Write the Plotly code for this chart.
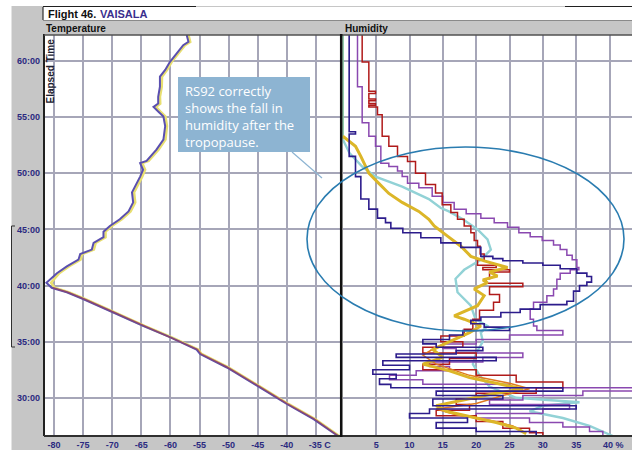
import plotly.graph_objects as go

# ---------------- data ----------------
temp_time = [62.3, 61.7, 61.4, 60.7, 59.9, 59.2, 58.6, 57.7, 56.8, 56.2, 55.9, 55.5, 55.05, 54.2, 53.0,
             52.1, 51.5, 51.1, 50.9, 50.3, 49.7, 48.8, 48.3, 47.4, 46.6, 45.9, 45.3, 44.8, 44.3, 43.8,
             43.2, 42.8, 42.3, 41.7, 41.1, 40.25, 39.8, 39.4, 38.8, 37.6, 36.4, 35.4, 34.3, 33.9, 32.7,
             31.1, 29.45, 28.1, 26.6]
temp_rs92 = [-57.2, -56.9, -57.8, -58.9, -60.1, -60.9, -61.8, -61.8, -62.1, -62.1, -62.9, -62.1, -61.2, -60.9, -61.2,
             -62.4, -63.5, -64.1, -65.2, -64.7, -65.2, -66.1, -66.6, -66.4, -67.2, -68.7, -70.4, -71.5, -71.5, -73.2,
             -73.5, -75.5, -75.8, -77.8, -79.5, -81.3, -80.4, -77.8, -75.0, -69.8, -64.7, -60.1, -55.5, -54.9, -50.3,
             -45.2, -40.0, -35.4, -31.2]
temp_ref = [-56.9, -56.6, -57.5, -58.6, -59.8, -60.6, -61.45, -61.5, -61.8, -61.75, -62.5, -61.75, -60.85, -60.6,
            -60.85, -62.05, -63.15, -63.75, -64.85, -64.35, -64.85, -65.75, -66.25, -66.05, -66.85, -68.35, -70.05,
            -71.15, -71.15, -72.85, -73.15, -75.15, -75.45, -77.45, -79.1, -80.5, -79.9, -77.5, -74.7, -69.55,
            -64.45, -59.85, -55.25, -54.65, -50.05, -44.95, -39.75, -35.15, -31.0]
temp_low_time = [39.8, 39.4, 38.8, 37.6, 36.4, 35.4, 34.3, 33.9, 32.7, 31.1, 29.45, 28.1, 26.6]
temp_low = [-80.2, -77.6, -74.8, -69.6, -64.5, -59.9, -55.3, -54.7, -50.1, -45.0, -39.8, -35.2, -31.1]

cyan_time = [53.0, 51.8, 50.6, 49.7, 48.8, 47.7, 46.9, 46.6, 45.9, 45.0, 44.1, 43.2, 42.3, 41.4, 40.6, 39.4,
             38.2, 37.0, 36.4, 35.8, 35.0, 34.0, 33.0, 32.0, 31.0, 30.0, 29.6, 29.3, 28.8, 28.2, 27.5, 26.6]
cyan_hum = [0.0, 1.0, 2.9, 4.9, 8.9, 12.9, 14.7, 15.9, 18.0, 20.2, 21.7, 22.2, 20.7, 18.2, 16.9, 17.2,
            19.2, 19.9, 21.7, 20.7, 21.0, 20.0, 19.5, 20.5, 22.0, 26.0, 35.5, 30.0, 28.0, 33.0, 37.0, 40.5]
green_time = [62.3, 53.0]
green_hum = [0.0, 0.0]

gold_time = [53.3, 52.4, 51.5, 50.0, 49.1, 48.2, 47.4, 46.6, 45.9, 45.3, 44.4, 43.5, 42.6, 42.2, 41.6, 41.2,
             40.85, 40.5, 40.25, 39.7, 39.1, 38.2, 37.3, 37.0, 36.4, 35.8, 35.0, 34.3, 33.6, 33.0, 32.4, 31.8,
             31.3, 30.8, 30.3, 29.8, 29.3, 28.8, 28.3, 27.8, 27.3, 26.8]
gold_hum = [0.0, 1.9, 2.7, 3.9, 5.4, 6.9, 8.9, 11.4, 12.9, 13.7, 15.7, 17.7, 19.2, 21.2, 24.7, 22.0,
            23.2, 21.0, 21.7, 19.7, 21.2, 20.2, 16.7, 18.2, 20.7, 19.0, 16.0, 13.5, 15.0, 12.0, 16.0, 19.0,
            23.0, 27.0, 22.0, 18.0, 14.0, 15.5, 19.5, 23.0, 26.0, 27.5]

orange_time = [35.5, 34.5, 33.8, 33.0, 32.0, 31.3, 30.8, 30.2, 29.5, 29.0, 28.5, 28.0, 27.5, 27.0]
orange_hum = [18.0, 14.0, 12.0, 14.0, 19.0, 25.0, 28.0, 24.0, 20.0, 14.0, 17.0, 22.0, 25.5, 27.0]

navy_time = [62.3, 53.7, 53.5, 51.5, 49.7, 47.7, 46.8, 46.0, 45.6, 45.1, 44.7, 44.25, 43.8, 43.4, 42.6,
             42.4, 42.2, 42.0, 41.8, 41.5, 41.1, 40.8, 40.3, 40.0, 39.5, 38.6, 38.3, 37.9, 37.6, 37.2,
             36.9, 36.6, 36.3, 36.0, 35.6, 35.2, 34.8, 34.5, 34.2, 33.9, 33.6, 33.3, 32.9, 32.5, 32.1,
             31.7, 31.2, 30.9, 30.6, 30.2, 29.9, 29.3, 29.0, 28.6, 28.2, 27.8, 27.3, 27.0, 26.6]
navy_hum = [0.95, 1.9, 0.95, 1.9, 2.7, 3.9, 5.2, 6.4, 7.2, 9.0, 11.7, 14.7, 17.7, 20.7, 22.5,
            24.0, 27.0, 30.0, 32.6, 35.1, 36.6, 37.3, 36.6, 35.5, 34.6, 33.6, 29.6, 26.6, 23.7, 20.7,
            19.2, 21.2, 25.0, 18.0, 16.0, 12.0, 14.0, 21.0, 17.0, 8.0, 23.0, 6.0, 10.0, 4.5, 8.0,
            5.5, 7.2, 33.0, 14.0, 24.0, 13.5, 35.0, 13.0, 10.0, 18.7, 14.0, 20.0, 29.0, 29.0]

purple_time = [62.3, 57.7, 54.5, 53.3, 52.4, 50.9, 50.6, 50.2, 49.7, 49.1, 48.7, 47.95, 47.4, 46.8, 46.4,
               46.0, 45.6, 45.2, 44.7, 44.35, 44.0, 43.6, 43.2, 42.7, 42.3, 41.6, 41.4, 41.1, 40.55, 39.7,
               39.1, 38.5, 37.9, 37.0, 36.4, 36.0, 35.6, 35.2, 34.8, 34.4, 34.0, 33.6, 33.2, 32.8, 32.4,
               32.0, 31.6, 31.2, 30.9, 30.6, 30.2, 29.8, 29.4, 29.0, 28.6, 28.2, 27.8, 27.4, 27.0, 26.6]
purple_hum = [2.2, 2.9, 3.9, 4.9, 5.7, 6.9, 8.2, 8.9, 9.7, 11.4, 13.4, 15.0, 16.7, 18.5, 20.7,
              22.7, 24.7, 26.4, 28.1, 29.9, 31.6, 32.6, 33.6, 34.4, 35.1, 35.4, 34.1, 32.6, 32.1, 31.6,
              30.6, 28.6, 28.1, 28.6, 29.1, 33.0, 25.0, 20.0, 15.0, 17.0, 27.0, 21.0, 13.0, 16.0, 11.0,
              7.0, 12.0, 25.0, 43.5, 36.0, 27.0, 22.0, 34.0, 30.0, 20.0, 28.0, 33.0, 37.0, 39.0, 39.0]

red_time = [62.3, 59.9, 57.3, 57.1, 56.6, 56.45, 56.2, 56.05, 55.9, 55.2, 53.3, 52.4, 51.5, 51.05, 50.0,
            49.0, 48.25, 47.2, 46.5, 45.9, 45.3, 44.7, 44.0, 43.5, 42.8, 42.3, 41.8, 41.6, 41.4, 41.2,
            40.6, 40.2, 39.9, 39.2, 38.5, 37.8, 37.0, 36.1, 35.5, 35.0, 34.5, 34.0, 33.5, 33.0, 32.5,
            32.0, 31.4, 30.9, 30.4, 29.9, 29.4, 28.9, 28.4, 27.9, 27.3, 26.9, 26.6]
red_hum = [2.9, 3.9, 4.9, 3.9, 4.9, 3.9, 4.9, 3.9, 5.2, 5.9, 6.9, 8.2, 9.7, 10.9, 12.4,
           13.9, 14.9, 16.2, 17.2, 18.2, 19.2, 19.7, 20.2, 20.6, 21.2, 20.2, 23.0, 21.0, 25.0, 22.0,
           21.5, 27.0, 22.0, 23.5, 22.6, 20.5, 19.5, 18.2, 14.7, 18.0, 12.0, 20.0, 16.0, 12.0, 20.0,
           26.0, 33.0, 29.0, 20.0, 17.0, 19.0, 14.0, 20.0, 24.0, 28.0, 30.0, 30.0]

time_ticks = [30, 35, 40, 45, 50, 55, 60]
time_labels = ["30:00", "35:00", "40:00", "45:00", "50:00", "55:00", "60:00"]
temp_ticks = [-80, -75, -70, -65, -60, -55, -50, -45, -40, -35]
temp_labels = ["-80", "-75", "-70", "-65", "-60", "-55", "-50", "-45", "-40", "\u00a0\u00a0\u00a0-35 C"]
hum_ticks = [5, 10, 15, 20, 25, 30, 35, 40]
hum_labels = ["5", "10", "15", "20", "25", "30", "35", "\u00a0\u00a0\u00a040 %"]

# ---------------- layout helpers ----------------
W, H = 632, 450
L, R, T, B = 44, 632, 35, 436
PW, PH = R - L, B - T


def px(x):
    return (x - L) / PW


def py(y):
    return (B - y) / PH


fig = go.Figure()

# temperature panel
fig.add_trace(go.Scatter(x=temp_ref, y=temp_time, mode="lines",
                         line=dict(color="#e8df70", width=2.6), xaxis="x", yaxis="y", hoverinfo="skip"))
fig.add_trace(go.Scatter(x=temp_rs92, y=temp_time, mode="lines",
                         line=dict(color="#5a4fb0", width=2), xaxis="x", yaxis="y", hoverinfo="skip"))
fig.add_trace(go.Scatter(x=temp_low, y=temp_low_time, mode="lines", opacity=0.55,
                         line=dict(color="#b04040", width=1.5), xaxis="x", yaxis="y", hoverinfo="skip"))

# humidity panel
fig.add_trace(go.Scatter(x=green_hum, y=green_time, mode="lines",
                         line=dict(color="#7cc39c", width=2), xaxis="x2", yaxis="y2"))
fig.add_trace(go.Scatter(x=cyan_hum, y=cyan_time, mode="lines",
                         line=dict(color="#92d2d6", width=2.4), xaxis="x2", yaxis="y2"))
fig.add_trace(go.Scatter(x=purple_hum, y=purple_time, mode="lines", line_shape="vh",
                         line=dict(color="#8a48b0", width=1.5), xaxis="x2", yaxis="y2"))
fig.add_trace(go.Scatter(x=red_hum, y=red_time, mode="lines", line_shape="vh",
                         line=dict(color="#b01a1a", width=1.5), xaxis="x2", yaxis="y2"))
fig.add_trace(go.Scatter(x=orange_hum, y=orange_time, mode="lines",
                         line=dict(color="#e07a20", width=1.5), xaxis="x2", yaxis="y2"))
fig.add_trace(go.Scatter(x=gold_hum, y=gold_time, mode="lines",
                         line=dict(color="#dcb628", width=3), xaxis="x2", yaxis="y2"))
fig.add_trace(go.Scatter(x=navy_hum, y=navy_time, mode="lines", line_shape="vh",
                         line=dict(color="#2c1c8c", width=1.6), xaxis="x2", yaxis="y2"))

tickfont = dict(family="Liberation Sans Narrow, Arial Narrow, sans-serif", size=9, color="#2b2a80")
gridc = "#a6a6b8"

fig.update_layout(
    width=W, height=H,
    margin=dict(l=L, r=W - R, t=T, b=H - B, pad=0, autoexpand=False),
    paper_bgcolor="#c6c6c6", plot_bgcolor="#ffffff",
    showlegend=False,
    xaxis=dict(domain=[0, px(340)], range=[-81.72, -30.86], anchor="y", automargin=False,
               tickvals=temp_ticks, ticktext=["<b>%s</b>" % s for s in temp_labels],
               tickfont=tickfont, showgrid=True, gridcolor=gridc, gridwidth=1.5,
               zeroline=False, showline=False, ticks="", fixedrange=True, ticklabelstandoff=2),
    xaxis2=dict(domain=[px(342.5), 1], range=[-0.05, 43.37], anchor="y2", automargin=False,
                tickvals=hum_ticks, ticktext=["<b>%s</b>" % s for s in hum_labels],
                tickfont=tickfont, showgrid=True, gridcolor=gridc, gridwidth=1.5,
                zeroline=False, showline=False, ticks="", fixedrange=True, ticklabelstandoff=2),
    yaxis=dict(range=[26.6, 62.31], anchor="x", tickvals=time_ticks, automargin=False,
               ticktext=["<b>%s</b>" % s for s in time_labels], tickfont=tickfont,
               showgrid=True, gridcolor=gridc, gridwidth=1.5, zeroline=False, showline=False,
               ticks="", ticklabelstandoff=3),
    yaxis2=dict(range=[26.6, 62.31], anchor="x2", matches="y", tickvals=time_ticks, automargin=False,
                showticklabels=False, showgrid=True, gridcolor=gridc, gridwidth=1.5,
                zeroline=False, showline=False, ticks=""),
)

shapes = []
# white outer strips
shapes.append(dict(type="rect", xref="paper", yref="paper", x0=px(0), x1=px(11.5), y0=py(450), y1=py(0),
                   fillcolor="#ffffff", line=dict(width=0), layer="above"))
shapes.append(dict(type="rect", xref="paper", yref="paper", x0=px(0), x1=px(632), y0=py(6), y1=py(0),
                   fillcolor="#ffffff", line=dict(width=0), layer="above"))
# header box
shapes.append(dict(type="rect", xref="paper", yref="paper", x0=px(43), x1=px(632), y0=py(20), y1=py(7),
                   fillcolor="#ffffff", line=dict(width=0), layer="above"))
shapes.append(dict(type="line", xref="paper", yref="paper", x0=px(43), x1=px(632), y0=py(20.5), y1=py(20.5),
                   line=dict(color="#8a8a8a", width=1)))
shapes.append(dict(type="line", xref="paper", yref="paper", x0=px(43), x1=px(196), y0=py(6.5), y1=py(6.5),
                   line=dict(color="#202020", width=1.2)))
shapes.append(dict(type="line", xref="paper", yref="paper", x0=px(43), x1=px(43), y0=py(20), y1=py(7),
                   line=dict(color="#303030", width=1.2)))
shapes.append(dict(type="line", xref="paper", yref="paper", x0=px(565), x1=px(632), y0=py(6.5), y1=py(6.5),
                   line=dict(color="#202020", width=1.2)))
# plot borders
shapes.append(dict(type="line", xref="paper", yref="paper", x0=px(44), x1=px(44), y0=py(436), y1=py(34),
                   line=dict(color="#202020", width=2)))
shapes.append(dict(type="line", xref="paper", yref="paper", x0=px(44), x1=px(632), y0=py(436), y1=py(436),
                   line=dict(color="#303030", width=2)))
shapes.append(dict(type="line", xref="paper", yref="paper", x0=px(44), x1=px(632), y0=py(35), y1=py(35),
                   line=dict(color="#505050", width=1.5)))
shapes.append(dict(type="line", xref="paper", yref="paper", x0=px(341.2), x1=px(341.2), y0=py(437), y1=py(34),
                   line=dict(color="#101010", width=2.5)))
# left bracket
shapes.append(dict(type="path", xref="paper", yref="paper",
                   path="M %f,%f L %f,%f L %f,%f L %f,%f" % (px(15), py(226), px(11.5), py(226),
                                                            px(11.5), py(347), px(15), py(347)),
                   line=dict(color="#303030", width=1)))
# callout box and pointer
shapes.append(dict(type="line", xref="paper", yref="paper", x0=px(292), x1=px(322), y0=py(152), y1=py(178),
                   line=dict(color="#8db4d2", width=1.2)))
shapes.append(dict(type="rect", xref="paper", yref="paper", x0=px(178), x1=px(310), y0=py(152), y1=py(77),
                   fillcolor="#8db4d2", line=dict(width=0), layer="above"))
# ellipse
shapes.append(dict(type="circle", xref="paper", yref="paper", x0=px(307), x1=px(624), y0=py(331), y1=py(147),
                   line=dict(color="#2a7cb0", width=1.6), layer="above"))
fig.update_layout(shapes=shapes)

hdr = "Liberation Sans Narrow, Arial Narrow, sans-serif"
annotations = [
    dict(text="<b>Flight 46.</b>", x=px(46), y=py(13.5), xref="paper", yref="paper", xanchor="left",
         yanchor="middle", showarrow=False, font=dict(family=hdr, size=11, color="#101010")),
    dict(text="<b>VAISALA</b>", x=px(98), y=py(13.5), xref="paper", yref="paper", xanchor="left",
         yanchor="middle", showarrow=False, font=dict(family=hdr, size=11, color="#3a2f8e")),
    dict(text="<b>Temperature</b>", x=px(44), y=py(28.5), xref="paper", yref="paper", xanchor="left",
         yanchor="middle", showarrow=False, font=dict(family=hdr, size=10, color="#101010")),
    dict(text="<b>Humidity</b>", x=px(343), y=py(28.5), xref="paper", yref="paper", xanchor="left",
         yanchor="middle", showarrow=False, font=dict(family=hdr, size=10, color="#101010")),
    dict(text="<b>Elapsed Time</b>", x=px(50), y=py(37), xref="paper", yref="paper", xanchor="center",
         yanchor="top", textangle=-90, showarrow=False, font=dict(family=hdr, size=10, color="#202030")),
    dict(text="RS92 correctly<br>shows the fall in<br>humidity after the<br>tropopause.",
         x=px(183), y=py(80), xref="paper", yref="paper", xanchor="left", yanchor="top", align="left",
         showarrow=False, font=dict(family="Open Sans, sans-serif", size=13, color="#ffffff")),
]
fig.update_layout(annotations=annotations)

fig.write_html("out.html", config={"displayModeBar": False},
               post_script="document.body.style.margin='0';document.body.style.padding='0';"
                           "document.body.style.overflow='hidden';")
